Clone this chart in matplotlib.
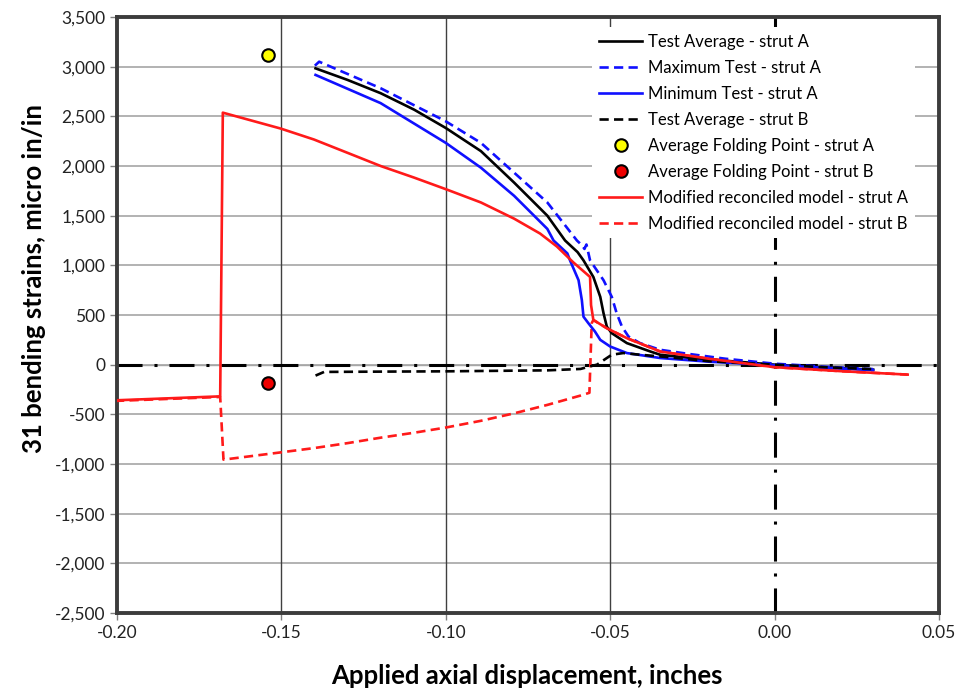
import numpy as np
import matplotlib
matplotlib.use("Agg")
import matplotlib.pyplot as plt
from matplotlib.ticker import FuncFormatter, MultipleLocator

plt.rcParams['font.family'] = ['Lato', 'DejaVu Sans']

# Test data, strut A
test_avg_A_x = [-0.1396, -0.1299, -0.1198, -0.1096, -0.10, -0.0893, -0.0792, -0.0691, -0.0637, -0.0599,
                -0.0581, -0.0551, -0.053, -0.052, -0.051, -0.0495, -0.0449, -0.0378, -0.0348, -0.025,
                -0.015, 0.0, 0.01, 0.02, 0.03]
test_avg_A_y = [2983, 2867, 2733, 2567, 2383, 2150, 1833, 1500, 1250, 1133,
                1050, 883, 683, 517, 383, 317, 217, 133, 100, 65,
                40, 0, -20, -35, -50]

max_test_A_x = [-0.1398, -0.1385, -0.1198, -0.10, -0.0893, -0.0792, -0.0691, -0.0601, -0.0585, -0.0578,
                -0.0572, -0.0561, -0.052, -0.0495, -0.048, -0.0464, -0.0444, -0.0409, -0.0348, -0.0265,
                -0.015, 0.0, 0.015, 0.03]
max_test_A_y = [3010, 3050, 2783, 2450, 2233, 1933, 1633, 1250, 1200, 1165,
                1210, 1050, 850, 683, 517, 383, 283, 217, 150, 110,
                60, 10, -20, -45]

min_test_A_x = [-0.1396, -0.1198, -0.10, -0.0893, -0.0792, -0.0691, -0.0672, -0.063, -0.0622, -0.0596,
                -0.0586, -0.0581, -0.0566, -0.0546, -0.053, -0.05, -0.0449, -0.0348, -0.02, 0.0,
                0.015, 0.03]
min_test_A_y = [2917, 2633, 2233, 1983, 1700, 1367, 1250, 1120, 1050, 850,
                650, 483, 417, 333, 250, 183, 117, 67, 30, -5,
                -30, -55]

# Test data, strut B
test_avg_B_x = [-0.1396, -0.137, -0.12, -0.10, -0.069, -0.059, -0.0561, -0.054, -0.051, -0.0495,
                -0.046, -0.0409, -0.0348, -0.02, 0.0, 0.015, 0.03]
test_avg_B_y = [-110, -73, -70, -67, -57, -43, -17, 0, 67, 100,
                117, 100, 83, 35, 0, -25, -45]

# Average folding points
fold_x = [-0.154, -0.154]
fold_y = [3120, -180]

# Modified reconciled model
model_A_x = [-0.2006, -0.1686, -0.1678, -0.1502, -0.1401, -0.1299, -0.1198, -0.1096, -0.10, -0.0893,
             -0.0792, -0.0713, -0.0662, -0.0612, -0.0561, -0.0558, -0.0551, -0.051, -0.0449, -0.0348,
             -0.02, 0.0, 0.02, 0.0405]
model_A_y = [-359, -319, 2537, 2377, 2267, 2133, 2000, 1883, 1767, 1633,
             1470, 1320, 1190, 1030, 883, 600, 450, 367, 267, 133,
             60, -25, -65, -100]

model_B_x = [-0.2006, -0.1686, -0.1676, -0.1502, -0.1401, -0.1299, -0.1198, -0.1096, -0.10, -0.0893,
             -0.0792, -0.0691, -0.0589, -0.0563, -0.0556, -0.0551, -0.051, -0.0449, -0.0348, -0.02,
             0.0, 0.02, 0.0405]
model_B_y = [-365, -325, -956, -883, -840, -790, -735, -685, -633, -565,
             -490, -405, -310, -283, 417, 450, 367, 267, 133, 60,
             -25, -65, -100]

fig = plt.figure(figsize=(9.61, 6.94), dpi=100)
ax = fig.add_axes([0.1217, 0.1167, 0.8553, 0.8588])

ax.set_xlim(-0.20, 0.05)
ax.set_ylim(-2500, 3500)
ax.xaxis.set_major_locator(MultipleLocator(0.05))
ax.yaxis.set_major_locator(MultipleLocator(500))
ax.xaxis.set_major_formatter(FuncFormatter(lambda v, p: f"{v:.2f}"))
ax.yaxis.set_major_formatter(FuncFormatter(lambda v, p: f"{v:,.0f}"))

# grid: gray horizontals, dark verticals
for yv in np.arange(-2000, 3500, 500):
  ax.axhline(yv, color='#a6a6a6', lw=1.2, zorder=0)
for xv in [-0.15, -0.10, -0.05]:
  ax.axvline(xv, color='#404040', lw=1.0, zorder=0)

dashdot = (0, (8.2, 3.9, 1, 3.9))
ax.axhline(0, color='#a6a6a6', lw=1.0, zorder=0.5)
ax.axhline(0, color='black', lw=2.2, ls=dashdot, zorder=1)
ax.axvline(0, color='black', lw=2.2, ls=dashdot, zorder=1)

lw = 1.9
dashed = (0, (3.5, 2))
ax.plot(test_avg_A_x, test_avg_A_y, color='black', lw=lw, label='Test Average - strut A', zorder=3)
ax.plot(max_test_A_x, max_test_A_y, color='#1010ff', lw=lw, ls=dashed,
        label='Maximum Test - strut A', zorder=3)
ax.plot(min_test_A_x, min_test_A_y, color='#1010ff', lw=lw, label='Minimum Test - strut A', zorder=3)
ax.plot(test_avg_B_x, test_avg_B_y, color='black', lw=lw, ls=dashed,
        label='Test Average - strut B', zorder=3)
ax.plot(fold_x[:1], fold_y[:1], ls='none', marker='o', ms=9, mfc='#ffff00', mec='black', mew=1.5,
        label='Average Folding Point - strut A', zorder=4)
ax.plot(fold_x[1:], fold_y[1:], ls='none', marker='o', ms=9, mfc='#ee0000', mec='black', mew=1.5,
        label='Average Folding Point - strut B', zorder=4)
ax.plot(model_A_x, model_A_y, color='#ff1a1a', lw=lw, label='Modified reconciled model - strut A', zorder=3)
ax.plot(model_B_x, model_B_y, color='#ff1a1a', lw=lw, ls=dashed,
        label='Modified reconciled model - strut B', zorder=2.9)

for s in ax.spines.values():
  s.set_linewidth(2.8)
  s.set_color('#3c3c3c')

ax.tick_params(axis='both', labelsize=12.5, colors='#222222', length=5, width=1, direction='out')
ax.tick_params(axis='both', color='#808080')

ax.set_xlabel('Applied axial displacement, inches', fontsize=18.5, fontweight='bold')
ax.set_ylabel('31 bending strains, micro in/in', fontsize=18.5, fontweight='bold')
ax.xaxis.set_label_coords(0.4988, -0.086)
ax.yaxis.set_label_coords(-0.086, 0.562)

leg = ax.legend(loc='upper right', bbox_to_anchor=(0.981, 0.997), fontsize=12, frameon=True,
                facecolor='white', edgecolor='none', framealpha=1, fancybox=False,
                handlelength=2.6, handletextpad=0.35, labelspacing=0.6, borderpad=0.4)
leg.set_zorder(5)

fig.savefig('out.png', dpi=100)
